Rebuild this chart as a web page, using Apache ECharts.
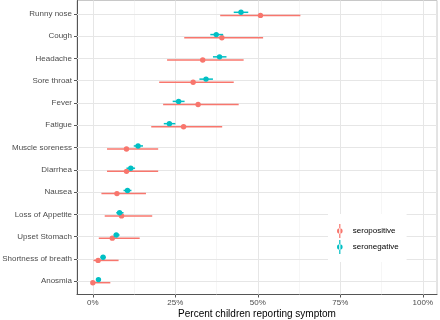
<!DOCTYPE html>
<html>
<head>
<meta charset="utf-8">
<script src="https://cdn.jsdelivr.net/npm/echarts@6/dist/echarts.min.js"></script>
<style>
  html, body { margin: 0; padding: 0; background: #fff; }
  #chart { width: 440px; height: 320px; }
</style>
</head>
<body>
<div id="chart"></div>
<script>
// symptoms, top to bottom
var categories = ['Runny nose', 'Cough', 'Headache', 'Sore throat', 'Fever', 'Fatigue',
  'Muscle soreness', 'Diarrhea', 'Nausea', 'Loss of Appetite', 'Upset Stomach',
  'Shortness of breath', 'Anosmia'];

// percent reporting, with interval
var posEst = [50.8, 39.1, 33.3, 30.4, 31.9, 27.5, 10.2, 10.2, 7.3, 8.7, 5.9, 1.6, 0.0];
var posLo  = [38.6, 27.7, 22.5, 20.1, 21.3, 17.7, 4.3, 4.3, 2.6, 3.6, 1.8, 0.2, 0.0];
var posHi  = [62.9, 51.6, 45.7, 42.7, 44.2, 39.2, 19.8, 19.8, 16.1, 18.0, 14.2, 7.8, 5.3];

var negEst = [44.9, 37.4, 38.4, 34.3, 26.0, 23.2, 13.7, 11.5, 10.5, 8.1, 7.1, 3.1, 1.7];
var negLo  = [42.7, 35.6, 36.4, 32.3, 24.2, 21.5, 12.4, 10.2, 9.3, 7.1, 6.3, 2.3, 1.1];
var negHi  = [47.1, 39.5, 40.5, 36.4, 27.8, 25.0, 15.2, 12.8, 11.7, 9.3, 8.1, 3.9, 2.3];

var xTicks = [0, 25, 50, 75, 100];
var xMinor = [12.5, 37.5, 62.5, 87.5];

var FONT = "'Liberation Sans', Arial, sans-serif";
var C_POS = '#F8766D', C_NEG = '#00BFC4';

var yPos = categories.map(function (c, i) { return i + 1; });

function rows(est, lo, hi) {
  return est.map(function (v, i) { return [i + 1, v, lo[i], hi[i]]; });
}

function pointRange(color, off) {
  return function (params, api) {
    var y = api.value(0) + off;
    var a = api.coord([api.value(2), y]);
    var b = api.coord([api.value(3), y]);
    var c = api.coord([api.value(1), y]);
    return {
      type: 'group',
      children: [
        { type: 'line', shape: { x1: a[0], y1: a[1], x2: b[0], y2: b[1] },
          style: { stroke: color, lineWidth: 1.5 } },
        { type: 'circle', shape: { cx: c[0], cy: c[1], r: 2.7 },
          style: { fill: color } }
      ]
    };
  };
}

var legendIcon = 'path://M2.4,0h1.2v14h-1.2z M0.2,7a2.8,2.8 0 1,0 5.6,0a2.8,2.8 0 1,0 -5.6,0z';

var gridLines = [];
xTicks.forEach(function (v) { gridLines.push({ xAxis: v, lineStyle: { color: '#e6e6e6', width: 1, type: 'solid' } }); });
xMinor.forEach(function (v) { gridLines.push({ xAxis: v, lineStyle: { color: '#f0f0f0', width: 0.6, type: 'solid' } }); });
yPos.forEach(function (v) { gridLines.push({ yAxis: v, lineStyle: { color: '#e6e6e6', width: 1, type: 'solid' } }); });

var myChart = echarts.init(document.getElementById('chart'));
option = {
  animation: false,
  backgroundColor: '#fff',
  textStyle: { fontFamily: FONT },
  grid: {
    left: 77, right: 3, top: 0.5, height: 294,
    outerBoundsMode: 'none',
    containLabel: false,
    show: true, borderColor: '#c8c8c8', borderWidth: 1, backgroundColor: '#fff'
  },
  legend: {
    orient: 'vertical',
    left: 328, top: 214,
    z: 10,
    padding: [10, 8, 8, 9],
    backgroundColor: '#fff',
    itemWidth: 6, itemHeight: 14, itemGap: 2,
    textStyle: { fontFamily: FONT, fontSize: 8, color: '#000', padding: [0, 0, 0, 5] },
    data: [
      { name: 'seropositive', icon: legendIcon, itemStyle: { color: C_POS } },
      { name: 'seronegative', icon: legendIcon, itemStyle: { color: C_NEG } }
    ]
  },
  xAxis: {
    type: 'value',
    min: -4.8, max: 104.3,
    name: 'Percent children reporting symptom',
    nameLocation: 'middle',
    nameGap: 15,
    nameMoveOverlap: false,
    nameTextStyle: { fontFamily: FONT, fontSize: 10, color: '#000', verticalAlign: 'top' },
    axisLine: { show: true, onZero: false, lineStyle: { color: '#555', width: 1 } },
    axisTick: { show: true, length: 3, customValues: xTicks, lineStyle: { color: '#555' } },
    axisLabel: {
      customValues: xTicks, margin: 4,
      fontFamily: FONT, fontSize: 8, color: '#4d4d4d',
      formatter: function (v) { return v + '%'; }
    },
    splitLine: { show: false }
  },
  yAxis: {
    type: 'value',
    inverse: true,
    min: 0.4, max: 13.6,
    axisLine: { show: true, onZero: false, lineStyle: { color: '#555', width: 1 } },
    axisTick: { show: true, length: 3, customValues: yPos, lineStyle: { color: '#555' } },
    axisLabel: {
      customValues: yPos, margin: 5,
      fontFamily: FONT, fontSize: 8, color: '#4d4d4d',
      formatter: function (v) { return categories[Math.round(v) - 1]; }
    },
    splitLine: { show: false }
  },
  series: [
    {
      name: 'grid',
      type: 'line',
      data: [],
      silent: true,
      z: 1,
      markLine: {
        z: 1,
        silent: true,
        symbol: 'none',
        label: { show: false },
        lineStyle: { type: 'solid' },
        emphasis: { disabled: true },
        animation: false,
        data: gridLines
      }
    },
    {
      name: 'seropositive',
      type: 'custom',
      z: 3,
      itemStyle: { color: C_POS },
      renderItem: pointRange(C_POS, 0.07),
      encode: { x: [1, 2, 3], y: 0 },
      data: rows(posEst, posLo, posHi)
    },
    {
      name: 'seronegative',
      type: 'custom',
      z: 3,
      itemStyle: { color: C_NEG },
      renderItem: pointRange(C_NEG, -0.07),
      encode: { x: [1, 2, 3], y: 0 },
      data: rows(negEst, negLo, negHi)
    }
  ]
};
myChart.setOption(option);
</script>
</body>
</html>
